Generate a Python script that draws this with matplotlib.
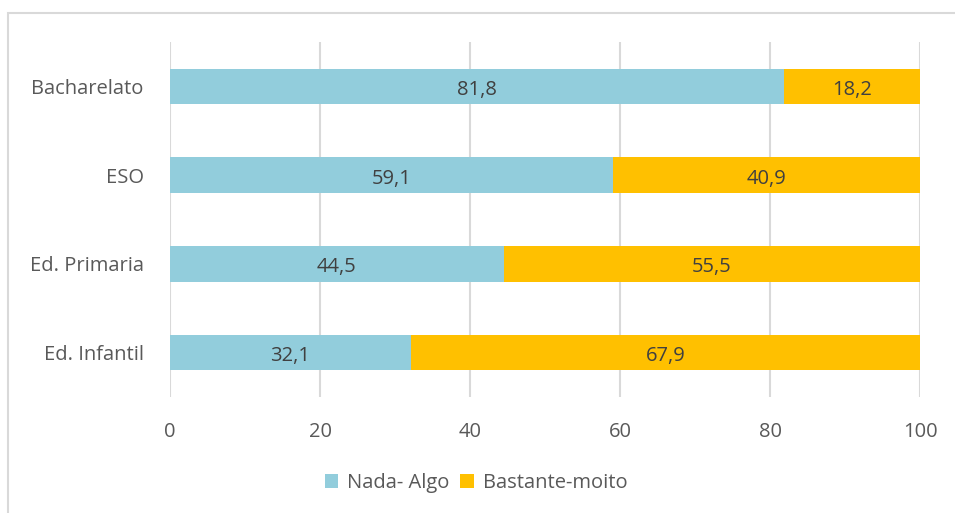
import numpy as np
from matplotlib import pyplot as plt
from matplotlib.patches import Rectangle

# Data
categories = ['Ed. Infantil', 'Ed. Primaria', 'ESO', 'Bacharelato']
nada_algo = [32.1, 44.5, 59.1, 81.8]
bastante_moito = [67.9, 55.5, 40.9, 18.2]
series_names = ['Nada- Algo', 'Bastante-moito']

blue = '#92CDDC'
gold = '#FFC000'
txt = '#595959'
grid = '#D9D9D9'
fs = 14.5

plt.rc('font', family=['Open Sans', 'DejaVu Sans'], size=fs)

fig = plt.figure(figsize=(9.55, 5.13), dpi=100)
# chart frame (only top and left edges visible in the crop)
fig.patches.append(Rectangle((7.5 / 955, -0.5), 2, 0.5 + (1 - 13.5 / 513),
                             transform=fig.transFigure, fill=False,
                             edgecolor=grid, lw=1.5))

ax = fig.add_axes([170 / 955, 1 - 397 / 513, 750 / 955, 355 / 513])
y = np.arange(len(categories))
b1 = ax.barh(y, nada_algo, height=0.4, color=blue, label=series_names[0])
b2 = ax.barh(y, bastante_moito, left=nada_algo, height=0.4, color=gold,
             label=series_names[1])

for vals, lefts in [(nada_algo, [0] * 4), (bastante_moito, nada_algo)]:
    for v, l, yy in zip(vals, lefts, y):
        ax.text(l + v / 2, yy - 0.01, f'{v:.1f}'.replace('.', ','), ha='center',
                va='center_baseline', color='#404040', fontsize=fs)

ax.set_xlim(0, 100)
ax.set_ylim(-0.5, 3.5)
ax.set_xticks(range(0, 101, 20))
ax.set_yticks(y)
ax.set_yticklabels(categories)
ax.tick_params(length=0, colors=txt, labelsize=fs)
ax.tick_params(axis='x', pad=18)
ax.tick_params(axis='y', pad=19)
ax.xaxis.grid(True, color=grid, lw=1.5)
ax.set_axisbelow(True)
for s in ax.spines.values():
    s.set_visible(False)

fig.legend(handles=[b1, b2], loc='center', bbox_to_anchor=(476 / 955, 1 - 483 / 513),
           ncol=2, frameon=False, handlelength=0.65, handleheight=0.65,
           handletextpad=0.45, columnspacing=0.55, labelcolor=txt, fontsize=fs)

fig.savefig('out.png', dpi=100)
